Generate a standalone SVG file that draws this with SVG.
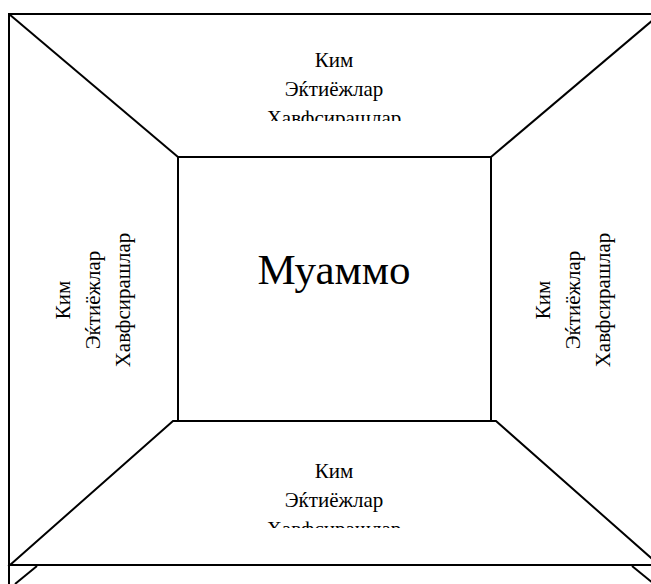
<svg xmlns="http://www.w3.org/2000/svg" width="651" height="584" viewBox="0 0 651 584">
<style>
.ln{fill:none;stroke:#000;stroke-width:2;stroke-linejoin:miter}
.bg{fill:#fff;stroke:#000;stroke-width:2}
svg text, g text, text.lbl{font-family:'Liberation Serif','Times New Roman',serif !important}
</style>
<defs>
<clipPath id="clipTop"><rect x="150" y="40" width="370" height="81"/></clipPath>
<clipPath id="clipBot"><rect x="150" y="440" width="370" height="88"/></clipPath>
</defs>
<rect width="651" height="584" fill="#fff"/>
<g id="frame">
<path class="ln" d="M9,584 V14 H662"/>
</g>
<g id="connectors">
<line class="ln" x1="9" y1="14" x2="178" y2="157"/>
<line class="ln" x1="660" y1="14" x2="491" y2="157"/>
</g>
<g id="top">
<g clip-path="url(#clipTop)">
<text class="lbl" style="font-family:'Liberation Serif',serif !important" font-family="Liberation Serif" font-size="21" text-anchor="middle" x="334" y="67">Ким</text>
<text class="lbl" style="font-family:'Liberation Serif',serif !important" font-family="Liberation Serif" font-size="21" text-anchor="middle" x="334" y="96">Эќтиёжлар</text>
<text class="lbl" style="font-family:'Liberation Serif',serif !important" font-family="Liberation Serif" font-size="21" text-anchor="middle" x="334" y="125">Хавфсирашлар</text>
</g>
</g>
<g id="center">
<rect class="bg" x="178" y="157" width="313" height="264"/>
<text class="lbl" style="font-family:'Liberation Serif',serif !important" font-family="Liberation Serif" font-size="43" text-anchor="middle" x="334" y="284">Муаммо</text>
</g>
<g id="left">
<text class="lbl" style="font-family:'Liberation Serif',serif !important" font-family="Liberation Serif" font-size="21" text-anchor="middle" transform="translate(70,300) rotate(-90)">Ким</text>
<text class="lbl" style="font-family:'Liberation Serif',serif !important" font-family="Liberation Serif" font-size="21" text-anchor="middle" transform="translate(100,300) rotate(-90)">Эќтиёжлар</text>
<text class="lbl" style="font-family:'Liberation Serif',serif !important" font-family="Liberation Serif" font-size="21" text-anchor="middle" transform="translate(130,300) rotate(-90)">Хавфсирашлар</text>
</g>
<g id="right">
<text class="lbl" style="font-family:'Liberation Serif',serif !important" font-family="Liberation Serif" font-size="21" text-anchor="middle" transform="translate(550,300) rotate(-90)">Ким</text>
<text class="lbl" style="font-family:'Liberation Serif',serif !important" font-family="Liberation Serif" font-size="21" text-anchor="middle" transform="translate(580,300) rotate(-90)">Эќтиёжлар</text>
<text class="lbl" style="font-family:'Liberation Serif',serif !important" font-family="Liberation Serif" font-size="21" text-anchor="middle" transform="translate(610,300) rotate(-90)">Хавфсирашлар</text>
</g>
<g id="bottom">
<polygon class="bg" points="173,421 496,421 659,565 10,565"/>
<g clip-path="url(#clipBot)">
<text class="lbl" style="font-family:'Liberation Serif',serif !important" font-family="Liberation Serif" font-size="21" text-anchor="middle" x="334" y="478">Ким</text>
<text class="lbl" style="font-family:'Liberation Serif',serif !important" font-family="Liberation Serif" font-size="21" text-anchor="middle" x="334" y="507">Эќтиёжлар</text>
<text class="lbl" style="font-family:'Liberation Serif',serif !important" font-family="Liberation Serif" font-size="21" text-anchor="middle" x="334" y="536">Хавфсирашлар</text>
</g>
</g>
<g id="lower">
<line class="ln" x1="37" y1="566" x2="15" y2="584"/>
<line class="ln" x1="632" y1="566" x2="654" y2="584"/>
</g>
</svg>
